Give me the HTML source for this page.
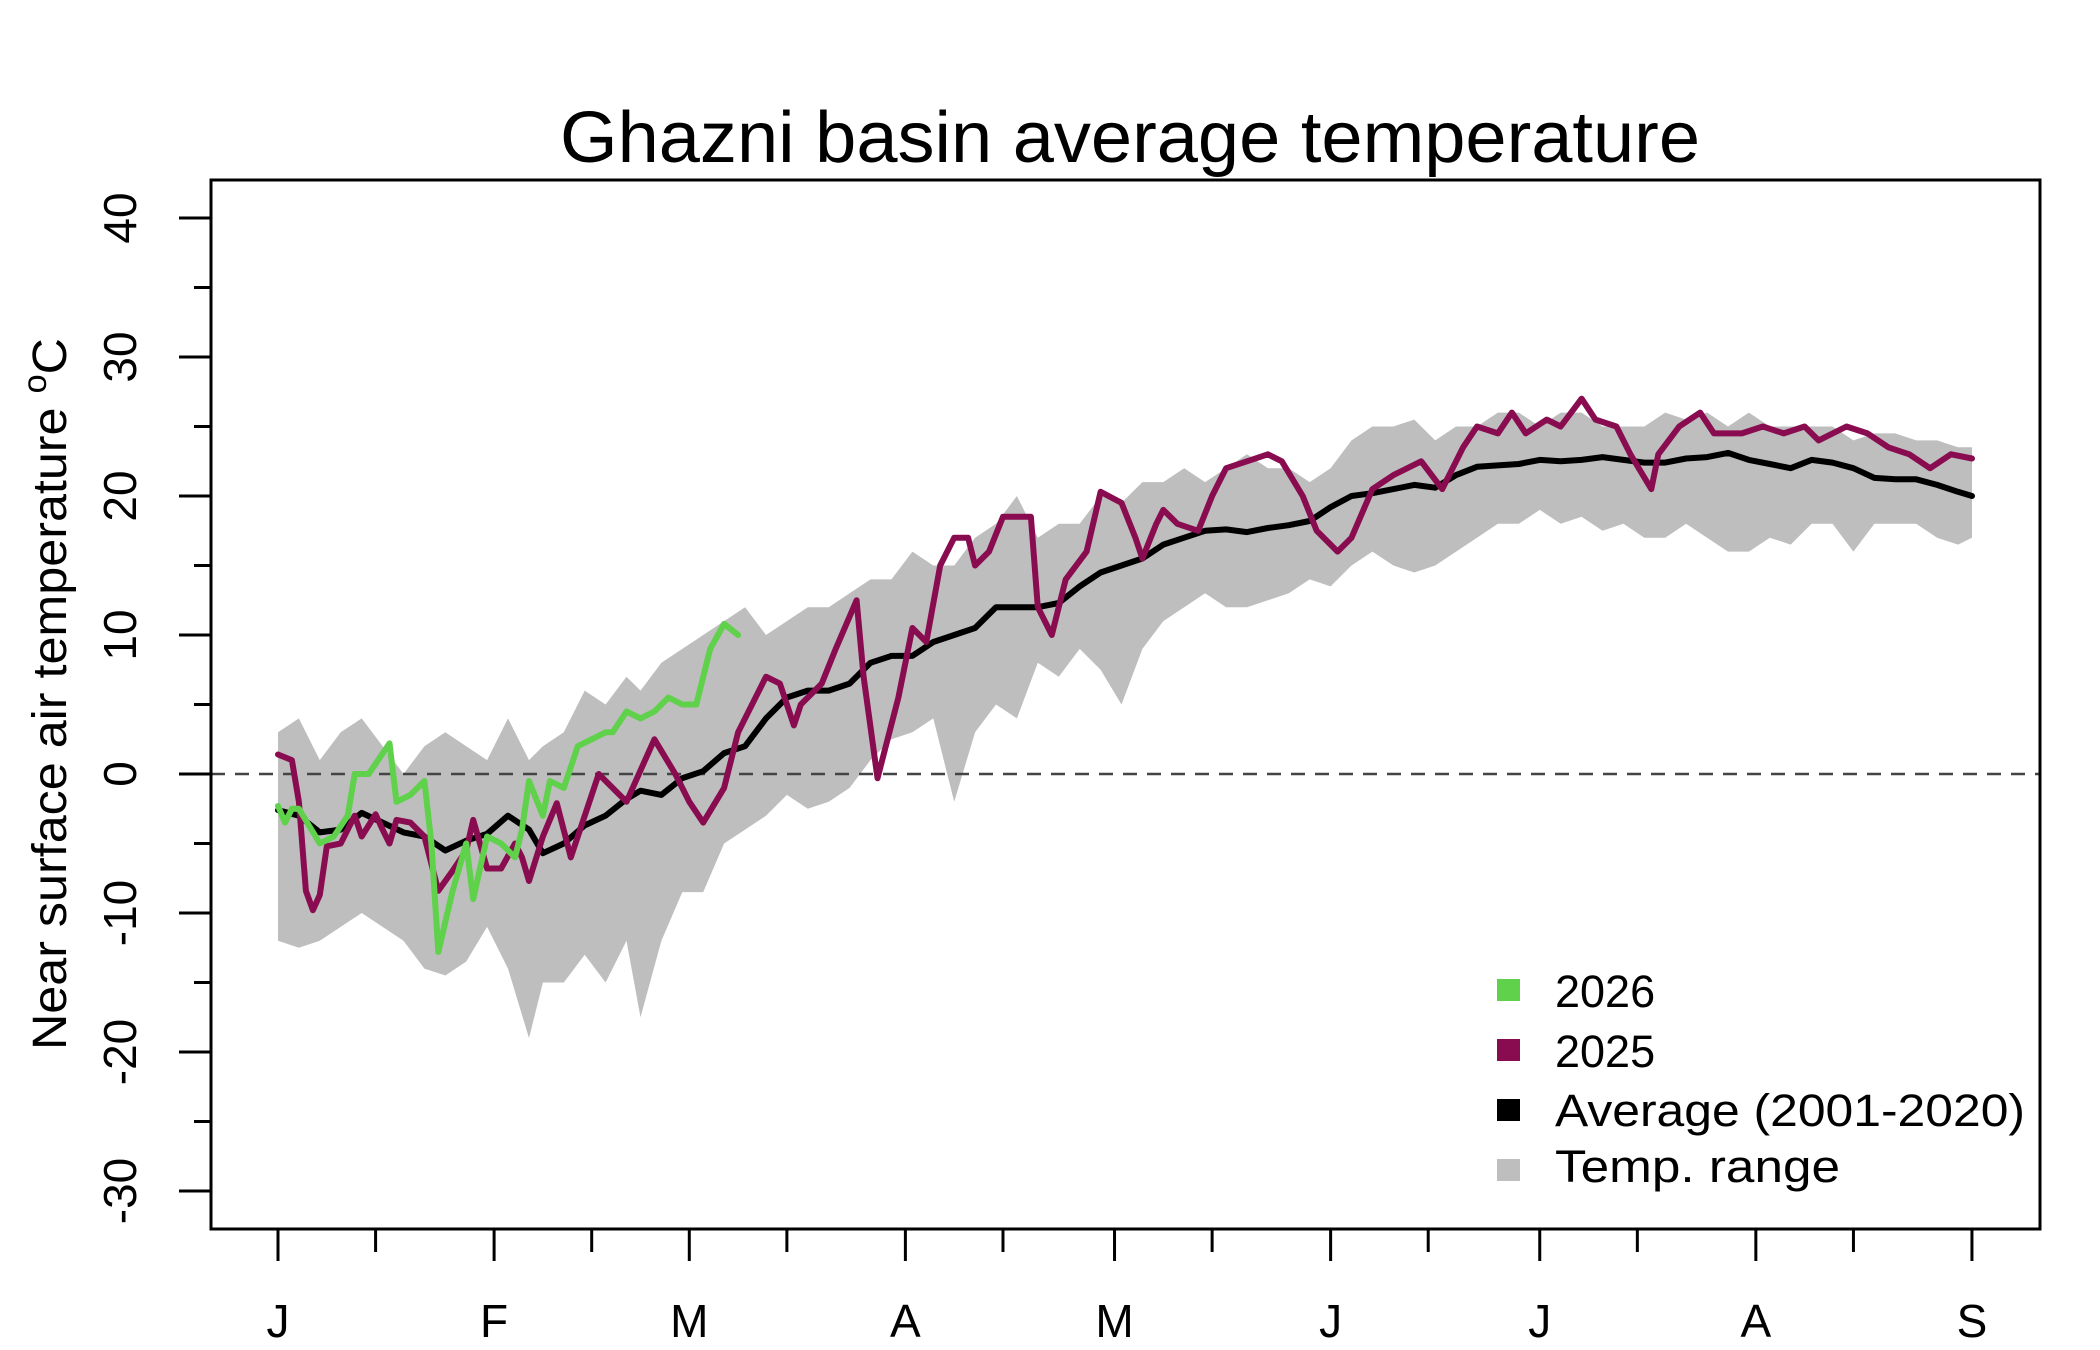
<!DOCTYPE html>
<html><head><meta charset="utf-8"><title>Ghazni basin average temperature</title>
<style>html,body{margin:0;padding:0;background:#fff}svg{display:block}text{font-family:"Liberation Sans",sans-serif;fill:#000}</style>
</head><body>
<svg id="chart" xmlns="http://www.w3.org/2000/svg" width="2100" height="1350" viewBox="0 0 2100 1350">
<rect width="2100" height="1350" fill="#fff"/>
<text x="1130" y="162" font-size="72" text-anchor="middle" textLength="1140" lengthAdjust="spacingAndGlyphs">Ghazni basin average temperature</text>
<g id="bands"></g>
<line x1="211" x2="2040" y1="774" y2="774" stroke="#444" stroke-width="2.5" stroke-dasharray="14,10"/>
<g id="lines"></g>
<rect x="211" y="180" width="1829" height="1049" fill="none" stroke="#000" stroke-width="3"/>
<g id="axes"></g>
<text transform="translate(66,694) rotate(-90)" font-size="48" text-anchor="middle" textLength="712" lengthAdjust="spacingAndGlyphs">Near surface air temperature <tspan font-size="33" dy="-20">o</tspan><tspan dy="20">C</tspan></text>
<g>
<rect x="1497" y="979" width="23" height="22" fill="#5fd14b"/>
<text x="1555" y="1007" font-size="45">2026</text>
<rect x="1497" y="1039" width="23" height="22" fill="#8a0c50"/>
<text x="1555" y="1067" font-size="45">2025</text>
<rect x="1497" y="1099" width="23" height="22" fill="#000"/>
<text x="1555" y="1126" font-size="45" textLength="470" lengthAdjust="spacingAndGlyphs">Average (2001-2020)</text>
<rect x="1497" y="1159" width="23" height="22" fill="#bebebe"/>
<text x="1555" y="1182" font-size="45" textLength="285" lengthAdjust="spacingAndGlyphs">Temp. range</text>
</g>
</svg>
<script>
const avgDays = [0,3,6,9,12,15,18,21,24,27,30,33,36,38,41,44,47,50,52,55,58,61,64,67,70,73,76,79,82,85,88,91,94,97,100,103,106,109,112,115,118,121,124,127,130,133,136,139,142,145,148,151,154,157,160,163,166,169,172,175,178,181,184,187,190,193,196,199,202,205,208,211,214,217,220,223,226,229,232,235,238,241,243];
const avgValues = [-2.6,-3,-4.2,-4,-2.8,-3.5,-4.2,-4.5,-5.5,-4.8,-4.3,-3,-4,-5.7,-5,-3.7,-3,-1.8,-1.2,-1.5,-0.3,0.2,1.5,2,4,5.5,6,6,6.5,8,8.5,8.5,9.5,10,10.5,12,12,12,12.3,13.5,14.5,15,15.5,16.5,17,17.5,17.6,17.4,17.7,17.9,18.2,19.2,20,20.2,20.5,20.8,20.6,21.5,22.1,22.2,22.3,22.6,22.5,22.6,22.8,22.6,22.4,22.4,22.7,22.8,23.1,22.6,22.3,22,22.6,22.4,22,21.3,21.2,21.2,20.8,20.3,20];
const rangeMax = [3,4,1,3,4,2,0,2,3,2,1,4,1,2,3,6,5,7,6,8,9,10,11,12,10,11,12,12,13,14,14,16,15,15,17,18,20,17,18,18,20,19.5,21,21,22,21,22,23,22,22,21,22,24,25,25,25.5,24,25,25,26,26,25,26,26,25,25,25,26,25.5,26,25,26,25,25,25,25,24,24.5,24.5,24,24,23.5,23.5];
const rangeMin = [-12,-12.5,-12,-11,-10,-11,-12,-14,-14.5,-13.5,-11,-14,-19,-15,-15,-13,-15,-12,-17.5,-12,-8.5,-8.5,-5,-4,-3,-1.5,-2.5,-2,-1,1,2.5,3,4,-2,3,5,4,8,7,9,7.5,5,9,11,12,13,12,12,12.5,13,14,13.5,15,16,15,14.5,15,16,17,18,18,19,18,18.5,17.5,18,17,17,18,17,16,16,17,16.5,18,18,16,18,18,18,17,16.5,17];
const days2025 = [0,2,3,4,5,6,7,9,10,11,12,14,15,16,17,19,21,23,25,27,28,30,32,34,35,36,38,40,42,46,50,54,57,59,61,64,66,70,72,74,75,78,80,83,84,86,89,91,93,95,97,99,100,102,104,106,108,109,111,113,116,118,121,123,124,126,127,129,132,134,136,139,142,144,147,149,152,154,157,160,164,167,170,172,175,177,179,182,184,187,189,192,194,197,198,201,204,206,210,213,216,219,221,225,228,231,234,237,240,243];
const values2025 = [1.4,1,-2,-8.4,-9.8,-8.7,-5.2,-5,-4,-3,-4.5,-2.9,-4,-5,-3.3,-3.5,-4.5,-8.4,-7,-5.5,-3.3,-6.8,-6.8,-5,-6,-7.7,-4.5,-2.1,-6,0,-2,2.5,0,-2,-3.5,-1,3,7,6.5,3.5,5,6.5,9,12.5,7,-0.3,5.5,10.5,9.5,15,17,17,15,16,18.5,18.5,18.5,12,10,14,16,20.3,19.5,17,15.5,18,19,18,17.5,20,22,22.5,23,22.5,20,17.5,16,17,20.5,21.5,22.5,20.5,23.5,25,24.5,26,24.5,25.5,25,27,25.5,25,23,20.5,23,25,26,24.5,24.5,25,24.5,25,24,25,24.5,23.5,23,22,23,22.7];
const days2026 = [0,1,2,3,6,8,10,11,13,16,17,19,21,22,23,25,27,28,30,32,34,35,36,38,39,41,43,45,47,48,50,52,54,56,58,60,62,64,66];
const values2026 = [-2.3,-3.5,-2.5,-2.5,-5,-4.5,-3,0,0,2.2,-2,-1.5,-0.5,-5,-12.8,-8.5,-5,-9,-4.5,-5,-6,-4,-0.5,-3,-0.5,-1,2,2.5,3,3,4.5,4,4.5,5.5,5,5,9,10.8,10];
const monthLabels = ["J","F","M","A","M","J","J","A","S"];
const monthStarts = [0,31,59,90,120,151,181,212,243];
const midMonths = [14,45,73,104,134,165,195,226];
const yTicks = [-30,-20,-10,0,10,20,30,40];
const yMinorTicks = [-25,-15,-5,5,15,25,35];

const NS = "http://www.w3.org/2000/svg";
function xScale(d){ return 278 + d * 6.971; }
function yScale(v){ return 774 - v * 13.9; }
function mk(tag, attrs, parent){ const e=document.createElementNS(NS,tag); for(const k in attrs) e.setAttribute(k,attrs[k]); parent.appendChild(e); return e; }

const bands = document.getElementById('bands');
const n = Math.min(avgDays.length, rangeMax.length, rangeMin.length);
let pts = [];
for (let i=0;i<n;i++) pts.push(xScale(avgDays[i]).toFixed(1)+','+yScale(rangeMax[i]).toFixed(1));
for (let i=n-1;i>=0;i--) pts.push(xScale(avgDays[i]).toFixed(1)+','+yScale(rangeMin[i]).toFixed(1));
const band = mk('polygon', {points: pts.join(' '), fill:'#bebebe'}, bands);



const lines = document.getElementById('lines');
function line(days, vals, color, name){
  const m = Math.min(days.length, vals.length);
  const p = [];
  for (let i=0;i<m;i++) p.push(xScale(days[i]).toFixed(1)+','+yScale(vals[i]).toFixed(1));
  const el = mk('polyline', {points:p.join(' '), fill:'none', stroke:color, 'stroke-width':6, 'stroke-linejoin':'round', 'stroke-linecap':'round'}, lines);
  
  
}
line(avgDays, avgValues, '#000', 'average-line');
line(days2025, values2025, '#8a0c50', 'line-2025');
line(days2026, values2026, '#5fd14b', 'line-2026');

const axes = document.getElementById('axes');
monthStarts.forEach((d,i)=>{
  const x = xScale(d);
  const t = mk('line', {x1:x, x2:x, y1:1229, y2:1261, stroke:'#000', 'stroke-width':3}, axes);
  
  
  const lb = mk('text', {x:x, y:1337, 'font-size':46, 'text-anchor':'middle'}, axes);
  lb.textContent = monthLabels[i];
  
  
});
midMonths.forEach(d=>{
  const x = xScale(d);
  const t = mk('line', {x1:x, x2:x, y1:1229, y2:1252, stroke:'#000', 'stroke-width':3}, axes);
  
  
});
yTicks.forEach(v=>{
  const y = yScale(v);
  const t = mk('line', {x1:179, x2:211, y1:y, y2:y, stroke:'#000', 'stroke-width':3}, axes);
  
  
  const lb = mk('text', {transform:'translate(136,'+y+') rotate(-90)', 'font-size':46, 'text-anchor':'middle'}, axes);
  lb.textContent = v;
  
  
});
yMinorTicks.forEach(v=>{
  const y = yScale(v);
  const t = mk('line', {x1:194, x2:211, y1:y, y2:y, stroke:'#000', 'stroke-width':3}, axes);
  
  
});
</script>
</body></html>
